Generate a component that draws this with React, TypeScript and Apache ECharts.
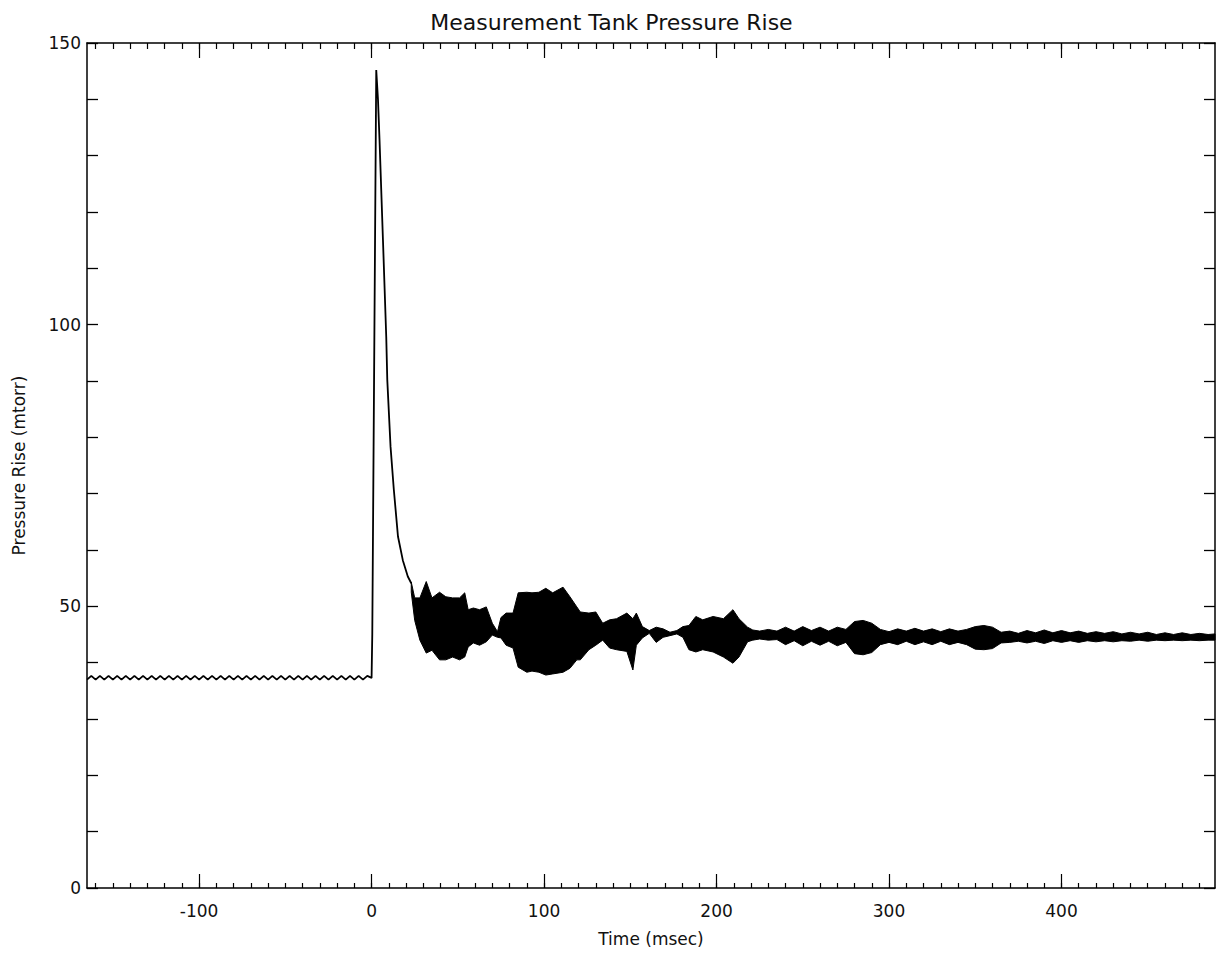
import React, { useEffect, useRef } from "react";
import * as echarts from "echarts";

const FONT = "DejaVu Sans";

// Baseline ripple, jump at t=0, spike and decay (time in msec, pressure in mtorr)
const traceTime = [
  -165, -162.5, -160, -157.5, -155, -152.5, -150, -147.5, -145, -142.5, -140, -137.5, -135, -132.5,
  -130, -127.5, -125, -122.5, -120, -117.5, -115, -112.5, -110, -107.5, -105, -102.5, -100, -97.5,
  -95, -92.5, -90, -87.5, -85, -82.5, -80, -77.5, -75, -72.5, -70, -67.5, -65, -62.5, -60, -57.5,
  -55, -52.5, -50, -47.5, -45, -42.5, -40, -37.5, -35, -32.5, -30, -27.5, -25, -22.5, -20, -17.5,
  -15, -12.5, -10, -7.5, -5, -2.5, 0,
  0.4, 2.7, 3.7, 4.6, 6.6, 8.5, 9.1, 11, 12.9, 15.3, 18.1, 21, 23,
];
const traceValue = [
  37.0, 37.65, 37.0, 37.65, 37.0, 37.65, 37.0, 37.65, 37.0, 37.65, 37.0, 37.65, 37.0, 37.65,
  37.0, 37.65, 37.0, 37.65, 37.0, 37.65, 37.0, 37.65, 37.0, 37.65, 37.0, 37.65, 37.0, 37.65,
  37.0, 37.65, 37.0, 37.65, 37.0, 37.65, 37.0, 37.65, 37.0, 37.65, 37.0, 37.65, 37.0, 37.65, 37.0, 37.65,
  37.0, 37.65, 37.0, 37.65, 37.0, 37.65, 37.0, 37.65, 37.0, 37.65, 37.0, 37.65, 37.0, 37.65, 37.0, 37.65,
  37.0, 37.65, 37.0, 37.65, 37.0, 37.65, 37.3,
  45, 145.2, 140, 132.8, 115, 97.8, 90.2, 78.3, 70.7, 62.4, 58.2, 55.3, 54.1,
];

// Envelope of the oscillating trace after the spike
const bandTime = [
  23, 25, 28, 31.7, 35, 39.4, 43, 47, 51, 54, 56, 59, 62.6, 66.5, 70, 73, 75, 78, 82, 85, 90, 93, 97,
  101, 105, 111, 115, 119, 121, 126, 130, 134, 138, 142, 148, 151.5, 153.5, 157, 161, 165, 169, 173,
  177, 180.5, 184, 188, 192, 198, 204, 209.5, 213, 218, 221, 225, 230, 235, 240, 245, 250, 255, 260,
  265, 270, 275, 280, 285, 290, 295, 300, 305, 310, 315, 320, 325, 330, 335, 340, 345, 350, 355, 360,
  365, 370, 375, 380, 385, 390, 395, 400, 405, 410, 415, 420, 425, 430, 435, 440, 445, 450, 455, 460,
  465, 470, 475, 480, 485, 489,
];
const bandUpper = [
  54.3, 51.5, 51.5, 54.4, 51.5, 52.5, 51.7, 51.5, 51.5, 52.4, 49.4, 49.7, 49.4, 49.9, 47.0, 45.5, 48.0,
  48.8, 48.8, 52.4, 52.5, 52.4, 52.5, 53.2, 52.4, 53.4, 51.7, 49.9, 49.0, 48.8, 49.0, 47.0, 47.6, 47.8,
  48.8, 47.8, 48.8, 46.4, 45.7, 46.3, 46.0, 45.4, 45.7, 46.4, 46.6, 48.2, 47.6, 48.2, 47.8, 49.4, 47.8,
  46.3, 45.8, 45.6, 45.9, 45.6, 46.3, 45.6, 46.4, 45.7, 46.3, 45.6, 46.3, 45.9, 47.3, 47.5, 47.0, 45.9,
  45.5, 46.0, 45.6, 46.1, 45.6, 46.0, 45.5, 46.0, 45.6, 45.9, 46.4, 46.6, 46.3, 45.4, 45.6, 45.2, 45.7,
  45.3, 45.8, 45.3, 45.7, 45.3, 45.6, 45.2, 45.5, 45.2, 45.5, 45.1, 45.4, 45.1, 45.4, 45.0, 45.3, 45.0,
  45.3, 45.0, 45.2, 45.0, 45.1,
];
const bandLower = [
  52.5, 47.5, 44.0, 41.7, 42.2, 40.5, 40.5, 41.0, 40.5, 41.0, 42.8, 43.5, 43.1, 43.7, 44.9, 44.5, 44.4,
  43.1, 42.6, 39.2, 38.3, 38.5, 38.3, 37.8, 38.0, 38.3, 39.0, 40.5, 40.5, 42.3, 43.1, 44.0, 42.6, 42.3,
  42.0, 38.7, 43.1, 44.4, 45.2, 43.6, 44.5, 44.8, 45.1, 44.5, 42.3, 41.9, 42.3, 41.9, 41.0, 39.9, 41.0,
  43.7, 44.0, 44.2, 44.0, 44.1, 43.2, 43.9, 43.0, 43.8, 43.1, 43.8, 43.0, 43.6, 41.6, 41.4, 41.8, 43.2,
  43.6, 43.2, 43.8, 43.2, 43.7, 43.2, 43.8, 43.2, 43.6, 43.2, 42.4, 42.3, 42.5, 43.5, 43.6, 43.8, 43.5,
  43.8, 43.4, 43.9, 43.6, 43.9, 43.6, 43.9, 43.7, 43.9, 43.7, 43.9, 43.8, 44.0, 43.8, 44.0, 43.9, 44.0,
  43.9, 44.0, 43.9, 44.0, 44.0,
];

// Axis ticks and labels
const xLabelValues = [-100, 0, 100, 200, 300, 400];
const xMajorTicks = [-100, 0, 100, 200, 300, 400];
const xMinorTicks = [
  -160, -150, -140, -130, -120, -110, -100, -90, -80, -70, -60, -50, -40, -30, -20, -10, 0, 10, 20, 30,
  40, 50, 60, 70, 80, 90, 100, 110, 120, 130, 140, 150, 160, 170, 180, 190, 200, 210, 220, 230, 240,
  250, 260, 270, 280, 290, 300, 310, 320, 330, 340, 350, 360, 370, 380, 390, 400, 410, 420, 430, 440,
  450, 460, 470, 480,
];
const yLabelValues = [0, 50, 100, 150];

const X_MIN = -165;
const X_MAX = 489;

export default function App() {
  const ref = useRef<HTMLDivElement>(null);

  useEffect(() => {
    if (!ref.current) return;
    const chart = echarts.init(ref.current, null, { renderer: "svg" });

    const line = { color: "#000", width: 1.5 };
    const labelStyle = { fontFamily: FONT, fontSize: 17, color: "#111" };

    const xBase = (position: string) => ({
      type: "value",
      min: X_MIN,
      max: X_MAX,
      position,
      splitLine: { show: false },
    });

    const renderBand = (params: any, api: any) => {
      if (params.dataIndex !== 0) return null;
      const pts: number[][] = [];
      for (let i = 0; i < bandTime.length; i++) pts.push(api.coord([bandTime[i], bandUpper[i]]));
      for (let i = bandTime.length - 1; i >= 0; i--) pts.push(api.coord([bandTime[i], bandLower[i]]));
      return {
        type: "polygon",
        shape: { points: pts },
        style: { fill: "#000", stroke: "#000", lineWidth: 1 },
      };
    };

    const option = {
      animation: false,
      backgroundColor: "#fff",
      title: {
        text: "Measurement Tank Pressure Rise",
        left: "center",
        top: 6,
        textStyle: { fontFamily: FONT, fontSize: 22, fontWeight: "normal", color: "#111" },
      },
      grid: { left: 87, right: 8, top: 43, bottom: 67 },
      xAxis: [
        {
          ...xBase("bottom"),
          axisLine: { show: true, onZero: false, lineStyle: line },
          axisTick: { show: true, inside: true, length: 5, customValues: xMinorTicks, lineStyle: { color: "#000", width: 1.2 } },
          axisLabel: { show: true, customValues: xLabelValues, margin: 14, ...labelStyle },
          name: "Time (msec)",
          nameLocation: "middle",
          nameGap: 42,
          nameTextStyle: labelStyle,
        },
        {
          ...xBase("bottom"),
          axisLine: { show: false, onZero: false },
          axisTick: { show: true, inside: true, length: 14, customValues: xMajorTicks, lineStyle: { color: "#000", width: 1.2 } },
          axisLabel: { show: false },
        },
        {
          ...xBase("top"),
          axisLine: { show: true, onZero: false, lineStyle: line },
          axisTick: { show: true, inside: true, length: 6, customValues: xMinorTicks, lineStyle: { color: "#000", width: 1.2 } },
          axisLabel: { show: false },
        },
        {
          ...xBase("top"),
          axisLine: { show: false, onZero: false },
          axisTick: { show: true, inside: true, length: 15, customValues: xMajorTicks, lineStyle: { color: "#000", width: 1.2 } },
          axisLabel: { show: false },
        },
      ],
      yAxis: [
        {
          type: "value",
          min: 0,
          max: 150,
          interval: 10,
          position: "left",
          splitLine: { show: false },
          axisLine: { show: true, onZero: false, lineStyle: line },
          axisTick: { show: true, inside: true, length: 11, lineStyle: { color: "#000", width: 1.3 } },
          axisLabel: { show: true, customValues: yLabelValues, margin: 6, ...labelStyle },
          name: "Pressure Rise (mtorr)",
          nameLocation: "middle",
          nameGap: 60,
          nameTextStyle: labelStyle,
        },
        {
          type: "value",
          min: 0,
          max: 150,
          interval: 10,
          position: "right",
          splitLine: { show: false },
          axisLine: { show: true, onZero: false, lineStyle: line },
          axisTick: { show: true, inside: true, length: 11, lineStyle: { color: "#000", width: 1.3 } },
          axisLabel: { show: false },
        },
      ],
      series: [
        {
          type: "custom",
          name: "band",
          xAxisIndex: 0,
          yAxisIndex: 0,
          renderItem: renderBand,
          data: bandTime.map((t, i) => [t, bandUpper[i], bandLower[i]]),
          encode: { x: 0, y: [1, 2] },
          z: 2,
        },
        {
          type: "line",
          name: "trace",
          xAxisIndex: 0,
          yAxisIndex: 0,
          showSymbol: false,
          symbol: "none",
          lineStyle: { color: "#000", width: 1.8 },
          data: traceTime.map((t, i) => [t, traceValue[i]]),
          z: 3,
        },
      ],
    };

    chart.setOption(option as any);
    return () => chart.dispose();
  }, []);

  return (
    <div
      ref={ref}
      style={{ position: "fixed", left: 0, top: 0, width: 1223, height: 955, background: "#fff" }}
    />
  );
}
